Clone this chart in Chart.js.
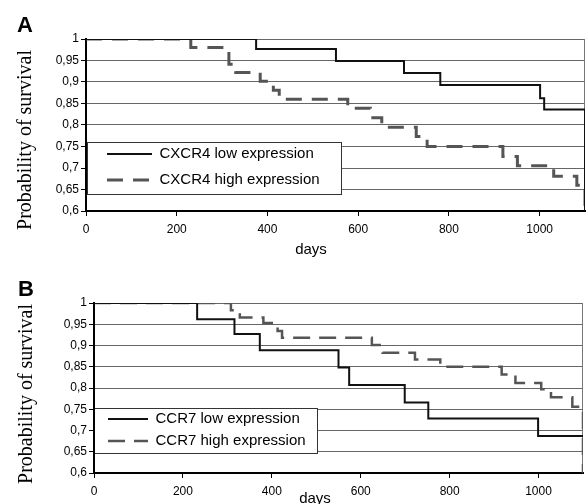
<!DOCTYPE html>
<html>
<head>
<meta charset="utf-8">
<script src="https://cdn.jsdelivr.net/npm/chart.js@4"></script>
<style>
  html, body { margin: 0; padding: 0; background: #fff; }
  #page { position: relative; width: 586px; height: 504px; overflow: hidden; font-family: "Liberation Sans", Arial, sans-serif; color: #000; }
  canvas { position: absolute; left: 0; }
  #chartA { top: 0; }
  #chartB { top: 255px; }
  .lbl { position: absolute; white-space: nowrap; transform: translate(-50%, -50%); line-height: 1; }
  .panel { font-weight: bold; font-size: 22px; }
  .ytitle { font-family: "Liberation Serif", "Times New Roman", serif; font-size: 20px; transform: translate(-50%, -50%) rotate(-90deg); }
  .xtitle { font-size: 15px; }
</style>
</head>
<body>
<div id="page">
  <canvas id="chartA" width="586" height="255"></canvas>
  <canvas id="chartB" width="586" height="249"></canvas>
  <div class="lbl panel" style="left:25px; top:25px;">A</div>
  <div class="lbl panel" style="left:26px; top:289px;">B</div>
  <div class="lbl ytitle" style="left:24px; top:140px;">Probability of survival</div>
  <div class="lbl ytitle" style="left:25px; top:394px;">Probability of survival</div>
  <div class="lbl xtitle" style="left:311px; top:248px;">days</div>
  <div class="lbl xtitle" style="left:315px; top:497px;">days</div>
</div>
<script>
// Panel A - CXCR4 (days where survival steps down, and survival after the step)
const aLowLabel = "CXCR4 low expression";
const aLowDays = [0, 375, 551, 701, 781, 1001, 1010, 1100, 1100];
const aLowSurv = [1, 0.977, 0.949, 0.921, 0.893, 0.862, 0.836, 0.836, 0.6];

const aHighLabel = "CXCR4 high expression";
const aHighDays = [0, 231, 315, 330, 384, 413, 426, 577, 627, 652, 728, 752, 919, 951, 1031, 1082, 1100, 1100];
const aHighSurv = [1, 0.980, 0.941, 0.922, 0.902, 0.881, 0.860, 0.839, 0.817, 0.795, 0.773, 0.750, 0.727, 0.705, 0.681, 0.660, 0.660, 0.6];

// Panel B - CCR7
const bLowLabel = "CCR7 low expression";
const bLowDays = [0, 232, 316, 373, 550, 574, 699, 752, 999, 1100];
const bLowSurv = [1, 0.962, 0.927, 0.889, 0.848, 0.807, 0.766, 0.728, 0.687, 0.687];

const bHighLabel = "CCR7 high expression";
const bHighDays = [0, 308, 328, 381, 413, 423, 625, 649, 722, 779, 917, 948, 1006, 1028, 1076, 1100, 1100];
const bHighSurv = [1, 0.983, 0.966, 0.953, 0.934, 0.918, 0.901, 0.883, 0.867, 0.850, 0.832, 0.812, 0.797, 0.778, 0.756, 0.756, 0.6];

// Axes
const dayMax = 1100;
const xTicks = [0, 200, 400, 600, 800, 1000];
const yTicks = [0.6, 0.65, 0.7, 0.75, 0.8, 0.85, 0.9, 0.95, 1];
const yTickLabels = ["0,6", "0,65", "0,7", "0,75", "0,8", "0,85", "0,9", "0,95", "1"];

const sans = "'Liberation Sans', Arial, sans-serif";

function points(days, surv) {
    return days.map((d, i) => ({ x: d, y: surv[i] }));
}

// legend items take the line style of their dataset (dash + width)
function lineLabels(chart) {
    return Chart.defaults.plugins.legend.labels.generateLabels(chart).map((item, i) => {
        const ds = chart.data.datasets[i];
        item.strokeStyle = ds.borderColor;
        item.lineWidth = ds.borderWidth;
        item.lineDash = ds.borderDash || [];
        return item;
    });
}

// put the legend inside the plot with a white framed box behind it
const insideLegend = {
    id: "insideLegend",
    afterLayout(chart, args, o) {
        const lg = chart.legend;
        lg.left = o.left;
        lg.top = o.top;
        lg.right = o.left + lg.width;
        lg.bottom = o.top + 200;
        if (!lg.framed) {
            const draw = lg.draw.bind(lg);
            lg.draw = function (area) {
                const ctx = chart.ctx;
                ctx.save();
                ctx.fillStyle = "#fff";
                ctx.fillRect(o.box[0], o.box[1], o.box[2], o.box[3]);
                ctx.strokeStyle = "#333";
                ctx.lineWidth = 1;
                ctx.strokeRect(o.box[0] + 0.5, o.box[1] + 0.5, o.box[2], o.box[3]);
                ctx.restore();
                draw(area);
            };
            lg.framed = true;
        }
    }
};

// thin grey right border of the plot area
const rightEdge = {
    id: "rightEdge",
    beforeDatasetsDraw(chart) {
        const { ctx, chartArea: a } = chart;
        ctx.save();
        ctx.strokeStyle = "#777";
        ctx.lineWidth = 1;
        ctx.beginPath();
        ctx.moveTo(a.right - 0.5, a.top);
        ctx.lineTo(a.right - 0.5, a.bottom);
        ctx.stroke();
        ctx.restore();
    }
};

function buildChart(id, o) {
    return new Chart(document.getElementById(id), {
        type: "line",
        data: {
            datasets: [{
                label: o.lowLabel,
                data: points(o.lowDays, o.lowSurv),
                borderColor: "#111",
                backgroundColor: "#111",
                borderWidth: 2,
                stepped: "before",
                pointRadius: 0,
                fill: false
            }, {
                label: o.highLabel,
                data: points(o.highDays, o.highSurv),
                borderColor: "#555",
                backgroundColor: "#555",
                borderWidth: o.highWidth,
                borderDash: o.dash,
                stepped: "before",
                pointRadius: 0,
                fill: false
            }]
        },
        options: {
            responsive: false,
            animation: false,
            events: [],
            layout: { padding: { top: o.padTop, right: o.padRight, left: 0, bottom: 0 } },
            scales: {
                x: {
                    type: "linear",
                    min: 0,
                    max: dayMax,
                    afterFit: s => { s.height = o.xAxisH; },
                    afterBuildTicks: s => { s.ticks = xTicks.map(v => ({ value: v })); },
                    grid: { drawOnChartArea: false, tickLength: 5, tickColor: "#000" },
                    border: { color: "#000", width: 2 },
                    ticks: { padding: 6, color: "#000", maxRotation: 0, font: { family: sans, size: 12 }, callback: v => String(v) }
                },
                y: {
                    min: 0.6,
                    max: 1,
                    afterFit: s => { s.width = o.yAxisW; },
                    afterBuildTicks: s => { s.ticks = yTicks.map(v => ({ value: v })); },
                    grid: { color: "#666", lineWidth: 1, tickLength: 5, tickColor: "#000" },
                    border: { color: "#000", width: 2 },
                    ticks: { padding: 2, color: "#000", font: { family: sans, size: 12 }, callback: (v, i) => yTickLabels[i] }
                }
            },
            plugins: {
                tooltip: { enabled: false },
                legend: {
                    position: "chartArea",
                    align: "start",
                    labels: {
                        usePointStyle: true,
                        pointStyle: "line",
                        pointStyleWidth: o.sampleW,
                        padding: o.legendPad,
                        color: "#000",
                        textAlign: "left",
                        font: { family: sans, size: 15 },
                        generateLabels: lineLabels
                    }
                },
                insideLegend: o.legendBox
            }
        },
        plugins: [insideLegend, rightEdge]
    });
}

buildChart("chartA", {
    lowLabel: aLowLabel, lowDays: aLowDays, lowSurv: aLowSurv,
    highLabel: aHighLabel, highDays: aHighDays, highSurv: aHighSurv,
    highWidth: 3, dash: [16, 10],
    padTop: 39, padRight: 1, yAxisW: 86, xAxisH: 44,
    sampleW: 45, legendPad: 11,
    legendBox: { left: 96, top: 135.5, box: [87, 142, 254, 52] }
});

buildChart("chartB", {
    lowLabel: bLowLabel, lowDays: bLowDays, lowSurv: bLowSurv,
    highLabel: bHighLabel, highDays: bHighDays, highSurv: bHighSurv,
    highWidth: 2.5, dash: [17, 9],
    padTop: 48, padRight: 3, yAxisW: 94, xAxisH: 31,
    sampleW: 40, legendPad: 7,
    legendBox: { left: 101, top: 149.5, box: [94, 153, 223, 45] }
});
</script>
</body>
</html>
